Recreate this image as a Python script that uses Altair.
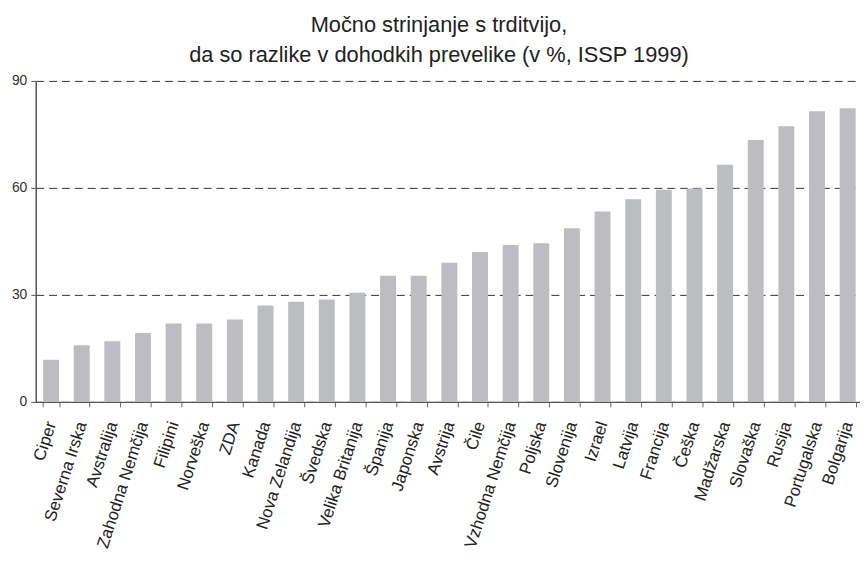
import altair as alt
import pandas as pd

countries = ["Ciper", "Severna Irska", "Avstralija", "Zahodna Nemčija", "Filipini",
             "Norveška", "ZDA", "Kanada", "Nova Zelandija", "Švedska",
             "Velika Britanija", "Španija", "Japonska", "Avstrija", "Čile",
             "Vzhodna Nemčija", "Poljska", "Slovenija", "Izrael", "Latvija",
             "Francija", "Češka", "Madžarska", "Slovaška", "Rusija",
             "Portugalska", "Bolgarija"]
values = [11.8, 15.9, 17.0, 19.3, 22.0,
          22.0, 23.1, 27.0, 28.1, 28.7,
          30.6, 35.4, 35.4, 39.0, 42.0,
          44.0, 44.5, 48.7, 53.4, 56.8,
          59.5, 59.8, 66.5, 73.4, 77.3,
          81.5, 82.3]
y_ticks = [0, 30, 60, 90]
title_lines = ["Močno strinjanje s trditvijo,",
               "da so razlike v dohodkih prevelike (v %, ISSP 1999)"]

df = pd.DataFrame({"country": countries, "value": values})

FONT = "Liberation Sans"

chart = alt.Chart(df).mark_bar(color="#bcbdc1").encode(
    x=alt.X("country:N", sort=countries,
            scale=alt.Scale(paddingInner=0.48, range=[0, 835]),
            axis=alt.Axis(title=None, labelAngle=288, labelAlign="right",
                          labelBaseline="middle", labelFontSize=17,
                          labelFont=FONT, labelColor="#222222",
                          labelPadding=15, labelOverlap=False, labelLimit=300,
                          tickBand="extent", tickSize=5, tickColor="#666666",
                          domainColor="#555555", domainWidth=1.5,
                          grid=False)),
    y=alt.Y("value:Q", scale=alt.Scale(domain=[0, 90], nice=False),
            axis=alt.Axis(title=None, values=y_ticks, labelFontSize=14,
                          labelFont=FONT, labelColor="#333333", labelPadding=4,
                          tickSize=5, tickColor="#555555",
                          domainColor="#555555", domainWidth=1.5,
                          grid=True, gridColor="#333333", gridDash=[8, 5],
                          gridWidth=1)),
).properties(
    width=832,
    height=324,
    title=alt.TitleParams(text=title_lines, fontSize=22, font=FONT,
                          fontWeight="normal", color="#222222",
                          anchor="middle", dx=-9, offset=7, lineHeight=30),
    autosize=alt.AutoSizeParams(type="none"),
    padding={"left": 28, "top": 71, "right": 0, "bottom": 155},
).configure_view(stroke=None)

chart.save("out.html", embed_options={"renderer": "svg", "actions": False})
